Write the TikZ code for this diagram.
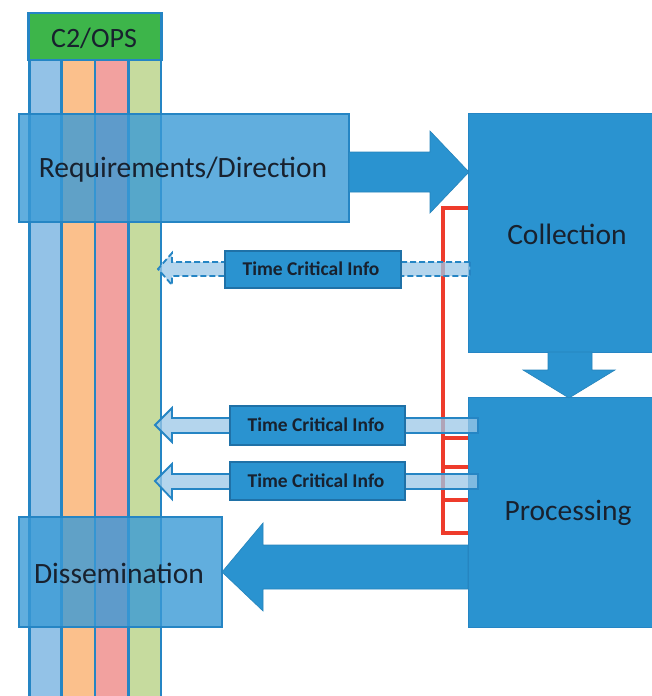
\documentclass[tikz,border=0pt]{standalone}
\usepackage{fontspec}
\setmainfont{Carlito}
\definecolor{bord}{HTML}{2585C4}
\definecolor{dblue}{HTML}{2A93D0}
\definecolor{sblue}{HTML}{3A9AD6}
\definecolor{colA}{HTML}{93C2E7}
\definecolor{colB}{HTML}{FBC08C}
\definecolor{colC}{HTML}{F2A19F}
\definecolor{colD}{HTML}{C6DB9E}
\definecolor{hgreen}{HTML}{3DB54A}
\definecolor{txt}{HTML}{18212E}
\definecolor{redb}{HTML}{EE3B2B}
\definecolor{tcifill}{HTML}{9CC8E8}
\begin{document}
\begin{tikzpicture}[x=1pt,y=-1pt,
  colbox/.style={draw=bord,line width=2.5pt},
  semibox/.style={fill=sblue,fill opacity=0.8,draw=bord,line width=1.5pt},
  bigbox/.style={fill=dblue,draw=bord,line width=1pt},
  bigarrow/.style={fill=dblue,draw=dblue!90!black,line width=0.6pt},
  tcibox/.style={fill=dblue,draw=bord!85!black,line width=1.5pt},
  tciarrow/.style={fill=tcifill,fill opacity=0.75,draw=bord,line width=1.8pt},
  bigtxt/.style={text=txt,font=\fontsize{29.5}{32}\selectfont},
  tcitxt/.style={text=txt,font=\bfseries\fontsize{19.5}{22}\selectfont}]
\useasboundingbox (0,0) rectangle (652,696);
\fill[white] (0,0) rectangle (652,696);
% columns
\draw[colbox,fill=colA] (29.5,60) rectangle (61.5,700);
\draw[colbox,fill=colB] (61.5,60) rectangle (95,700);
\draw[colbox,fill=colC] (95,60) rectangle (128.5,700);
\draw[colbox,fill=colD] (128.5,60) rectangle (161,700);
\draw[colbox,fill=hgreen] (28.5,13) rectangle (161.5,60);
\node[bigtxt,font=\fontsize{28}{30}\selectfont] (c2) at (94,38) {C2/OPS};
% red bracket
\draw[redb,line width=4pt] (468,208) -- (443,208) -- (443,533) -- (468,533);
\foreach \yy in {438,467,500} \draw[redb,line width=4pt] (443,\yy) -- (468,\yy);
% big boxes
\draw[bigbox] (468,113) rectangle (660,352);
\node[bigtxt] (coll) at (567,234) {Collection};
\draw[bigbox] (468,397) rectangle (660,627);
\node[bigtxt] (proc) at (568,513) {Processing};
% TCI arrows
\draw[tciarrow,dash pattern=on 6pt off 3pt] (470,262) -- (172,262) -- (172,253) -- (158,269) -- (172,285) -- (172,276) -- (470,276) -- cycle;
\draw[tciarrow] (478,418) -- (172,418) -- (172,408) -- (155,425) -- (172,442) -- (172,433) -- (478,433) -- cycle;
\draw[tciarrow] (478,474) -- (172,474) -- (172,464) -- (155,481) -- (172,499) -- (172,489) -- (478,489) -- cycle;
\draw[tcibox] (225,251) rectangle (401,288);
\node[tcitxt] (t1) at (311,269) {Time Critical Info};
\draw[tcibox] (230,406) rectangle (405,445);
\node[tcitxt] (t2) at (316,425) {Time Critical Info};
\draw[tcibox] (230,462) rectangle (405,500);
\node[tcitxt] (t3) at (316,481) {Time Critical Info};
% semi boxes
\draw[semibox] (19,114) rectangle (349,222);
\node[bigtxt] (req) at (183,170) {Requirements/Direction};
\draw[semibox] (19,517) rectangle (222,627);
\node[bigtxt] (diss) at (119,573) {Dissemination};
% big arrows
\draw[bigarrow] (349,152) -- (430,152) -- (430,131) -- (469,172) -- (430,213) -- (430,192) -- (349,192) -- cycle;
\draw[bigarrow] (548,352) -- (592,352) -- (592,370) -- (615,370) -- (569,398) -- (523,370) -- (548,370) -- cycle;
\draw[bigarrow] (468,545) -- (263,545) -- (263,523) -- (222,572) -- (263,611) -- (263,589) -- (468,589) -- cycle;
\end{tikzpicture}
\end{document}
